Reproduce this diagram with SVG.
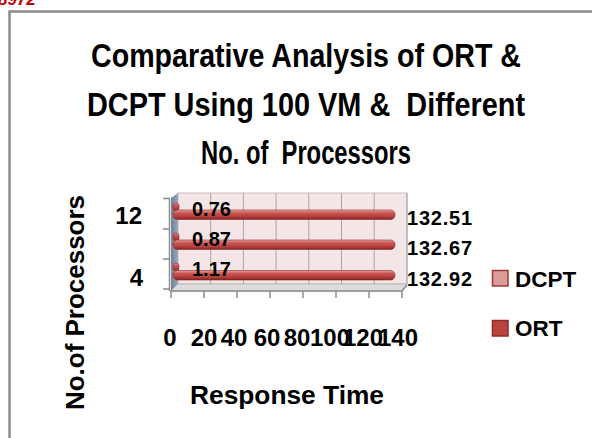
<svg xmlns="http://www.w3.org/2000/svg" width="592" height="438" viewBox="0 0 592 438">
<defs>
<style>
text{font-family:"Liberation Sans",Arial,sans-serif;font-weight:bold;fill:#000}
.title{font-size:33px;text-anchor:middle}
.axt{font-size:26px;text-anchor:middle}
.tick{font-size:24px;text-anchor:middle}
.cat{font-size:24px;text-anchor:end}
.dl{font-size:20px}
.leg{font-size:22.5px}
.grid{stroke:#a6a6a6;stroke-width:1}
.axis{stroke:#8c8c8c;stroke-width:1.5;fill:none}
</style>
<linearGradient id="barG" x1="0" y1="0" x2="0" y2="1">
<stop offset="0" stop-color="#e7a3a1"/>
<stop offset="0.3" stop-color="#cb5755"/>
<stop offset="0.7" stop-color="#b63e3c"/>
<stop offset="1" stop-color="#7e2321"/>
</linearGradient>
<linearGradient id="wallL" x1="0" y1="0" x2="1" y2="0">
<stop offset="0" stop-color="#6f8098"/>
<stop offset="1" stop-color="#9aa9bd"/>
</linearGradient>
</defs>
<rect x="0" y="0" width="592" height="438" fill="#fff"/>
<text x="-2" y="5" style="font-size:17px;font-style:italic;fill:#c00000">8972</text>
<rect id="frame" x="9.5" y="11.5" width="600" height="440" fill="#fff" stroke="#8c8c8c" stroke-width="2.5"/>

<g id="title">
<text class="title" x="306" y="67" textLength="430" lengthAdjust="spacingAndGlyphs">Comparative Analysis of ORT &amp;</text>
<text class="title" x="306" y="116" textLength="438" lengthAdjust="spacingAndGlyphs" xml:space="preserve">DCPT Using 100 VM &amp;  Different</text>
<text class="title" x="306" y="164" textLength="210" lengthAdjust="spacingAndGlyphs" xml:space="preserve">No. of  Processors</text>
</g>

<g id="plot">
<rect x="178" y="193" width="229" height="91" fill="#f4e6e6" stroke="#c8c0c0" stroke-width="1"/>
<g class="grid">
<line x1="210.7" y1="193" x2="210.7" y2="284"/>
<line x1="243.4" y1="193" x2="243.4" y2="284"/>
<line x1="276.1" y1="193" x2="276.1" y2="284"/>
<line x1="308.8" y1="193" x2="308.8" y2="284"/>
<line x1="341.5" y1="193" x2="341.5" y2="284"/>
<line x1="374.2" y1="193" x2="374.2" y2="284"/>
<line x1="407" y1="193" x2="407" y2="284"/>
</g>
<polygon points="171,198 178,193 178,284 171,291" fill="url(#wallL)"/>
<polygon points="178,284 407,284 402,291 171,291" fill="#dcdcdc" stroke="#b0b0b0" stroke-width="0.8"/>
<line class="axis" x1="169.5" y1="198" x2="169.5" y2="291"/>
<line class="axis" x1="163" y1="198.5" x2="170" y2="198.5"/>
<line class="axis" x1="163" y1="229" x2="170" y2="229"/>
<line class="axis" x1="163" y1="259" x2="170" y2="259"/>
<line class="axis" x1="163" y1="289" x2="170" y2="289"/>
<line class="axis" x1="170" y1="291" x2="402" y2="291"/>
<line class="axis" x1="402" y1="291" x2="407" y2="285"/>
<line class="axis" x1="171" y1="291" x2="171" y2="298"/>
<line class="axis" x1="204" y1="291" x2="204" y2="298"/>
<line class="axis" x1="237" y1="291" x2="237" y2="298"/>
<line class="axis" x1="270" y1="291" x2="270" y2="298"/>
<line class="axis" x1="303" y1="291" x2="303" y2="298"/>
<line class="axis" x1="336" y1="291" x2="336" y2="298"/>
<line class="axis" x1="369" y1="291" x2="369" y2="298"/>
<line class="axis" x1="402" y1="291" x2="402" y2="298"/>
</g>

<g id="bars" stroke="#8a2826" stroke-width="0.6" fill="url(#barG)">
<rect x="173" y="203" width="6" height="8" rx="3"/>
<rect x="173" y="210" width="222" height="9.5" rx="4.5"/>
<rect x="173" y="233" width="6" height="8" rx="3"/>
<rect x="173" y="240" width="222" height="9.5" rx="4.5"/>
<rect x="173" y="263" width="6" height="8" rx="3"/>
<rect x="173" y="270.5" width="222" height="9.5" rx="4.5"/>
</g>

<g id="labels">
<text class="dl" x="192" y="216">0.76</text>
<text class="dl" x="192" y="246">0.87</text>
<text class="dl" x="192" y="276">1.17</text>
<text class="dl" x="407" y="225" textLength="65">132.51</text>
<text class="dl" x="407" y="255" textLength="65">132.67</text>
<text class="dl" x="407" y="286" textLength="65">132.92</text>
<text class="cat" x="142" y="224">12</text>
<text class="cat" x="143" y="286">4</text>
<text class="tick" x="170" y="346">0</text>
<text class="tick" x="204" y="346">20</text>
<text class="tick" x="234" y="346">40</text>
<text class="tick" x="267" y="346">60</text>
<text class="tick" x="297" y="346">80</text>
<text class="tick" x="330" y="346">100</text>
<text class="tick" x="363" y="346">120</text>
<text class="tick" x="398" y="346">140</text>
<text class="axt" x="287" y="404" textLength="194" lengthAdjust="spacingAndGlyphs">Response Time</text>
<text class="axt" transform="translate(84,302.5) rotate(-90)" textLength="215" lengthAdjust="spacingAndGlyphs">No.of Processors</text>
</g>

<g id="legend">
<rect x="492.5" y="270.5" width="15.5" height="15.5" fill="#dc9a98" stroke="#9b3a38" stroke-width="1.5"/>
<text class="leg" x="515" y="287">DCPT</text>
<rect x="492.5" y="320.5" width="15.5" height="15.5" fill="#b9433f" stroke="#8e2b29" stroke-width="1.5"/>
<text class="leg" x="515" y="336">ORT</text>
</g>
</svg>
